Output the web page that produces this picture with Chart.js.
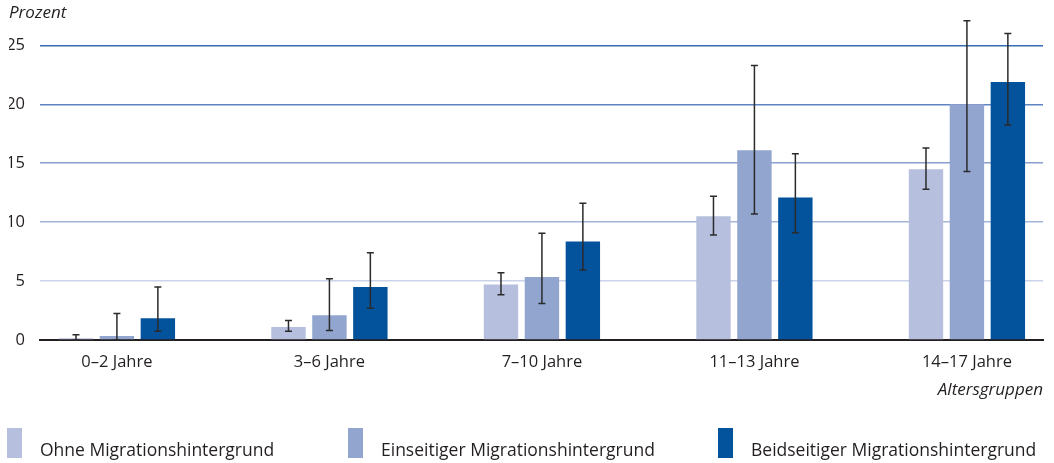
<!DOCTYPE html>
<html>
<head>
<meta charset="utf-8">
<script src="https://cdn.jsdelivr.net/npm/chart.js@4"></script>
<style>
body { margin: 0; background: #fff; }
#wrap { width: 1054px; height: 463px; }
</style>
</head>
<body>
<div id="wrap"><canvas id="myChart"></canvas></div>
<script>
const altersgruppen = ['0–2 Jahre', '3–6 Jahre', '7–10 Jahre', '11–13 Jahre', '14–17 Jahre'];
const serienNamen = ['Ohne Migrationshintergrund', 'Einseitiger Migrationshintergrund', 'Beidseitiger Migrationshintergrund'];
const serienFarben = ['#b6bfdd', '#91a5cf', '#03529c'];

const ohneWerte = [0.15, 1.1, 4.7, 10.5, 14.5];
const ohneUnten = [0, 0.75, 3.85, 8.9, 12.8];
const ohneOben = [0.45, 1.65, 5.7, 12.2, 16.3];

const einseitigWerte = [0.35, 2.1, 5.35, 16.1, 20.0];
const einseitigUnten = [0, 0.8, 3.1, 10.7, 14.3];
const einseitigOben = [2.25, 5.2, 9.05, 23.3, 27.1];

const beidseitigWerte = [1.85, 4.5, 8.35, 12.1, 21.9];
const beidseitigUnten = [0.75, 2.7, 5.95, 9.1, 18.25];
const beidseitigOben = [4.5, 7.4, 11.6, 15.8, 26.0];

const yTicks = [0, 5, 10, 15, 20, 25];
const gitterFarben = { 5: '#cbd3ea', 10: '#a3b4da', 15: '#8aa0d0', 20: '#5f84c3', 25: '#356db5' };

const schrift = "'Open Sans', 'Noto Sans', sans-serif";
const textFarbe = '#231f20';

const punkte = (werte) => werte.map((v, i) => ({ x: i, y: v }));

// Fehlerbalken ueber die y-Skala zeichnen
const fehlerbalken = {
	id: 'fehlerbalken',
	afterDatasetsDraw(chart) {
		const ctx = chart.ctx;
		const y = chart.scales.y;
		ctx.save();
		ctx.strokeStyle = '#2b2b2b';
		ctx.lineWidth = 1.5;
		chart.data.datasets.forEach((ds, d) => {
			chart.getDatasetMeta(d).data.forEach((bar, i) => {
				const lo = y.getPixelForValue(ds.unten[i]);
				const hi = y.getPixelForValue(ds.oben[i]);
				ctx.beginPath();
				ctx.moveTo(bar.x, lo);
				ctx.lineTo(bar.x, hi);
				ctx.moveTo(bar.x - 3.5, lo);
				ctx.lineTo(bar.x + 3.5, lo);
				ctx.moveTo(bar.x - 3.5, hi);
				ctx.lineTo(bar.x + 3.5, hi);
				ctx.stroke();
			});
		});
		ctx.restore();
	}
};

// Legende unten, in drei Spalten
const legendeUnten = {
	id: 'legendeUnten',
	afterDraw(chart) {
		const ctx = chart.ctx;
		const spalten = [7, 348, 718];
		const top = chart.height - 35;
		ctx.save();
		ctx.font = "17.5px " + schrift;
		ctx.textBaseline = 'alphabetic';
		chart.data.datasets.forEach((ds, d) => {
			ctx.fillStyle = ds.backgroundColor;
			ctx.fillRect(spalten[d], top, 15, 30);
			ctx.fillStyle = textFarbe;
			ctx.fillText(ds.label, spalten[d] + 33, top + 28);
		});
		ctx.restore();
	}
};

const ctx = document.getElementById('myChart');

let chart = new Chart(ctx, {
	type: 'bar',
	data: {
		datasets: [{
				label: serienNamen[0],
				data: punkte(ohneWerte),
				unten: ohneUnten,
				oben: ohneOben,
				backgroundColor: serienFarben[0],
			},
			{
				label: serienNamen[1],
				data: punkte(einseitigWerte),
				unten: einseitigUnten,
				oben: einseitigOben,
				backgroundColor: serienFarben[1],
			},
			{
				label: serienNamen[2],
				data: punkte(beidseitigWerte),
				unten: beidseitigUnten,
				oben: beidseitigOben,
				backgroundColor: serienFarben[2],
			}
		],
	},
	plugins: [fehlerbalken, legendeUnten],
	options: {
		responsive: true,
		maintainAspectRatio: false,
		animation: false,
		categoryPercentage: 0.578,
		barPercentage: 0.84,
		layout: {
			padding: { left: 9, right: 11, top: 0, bottom: 63 }
		},
		plugins: {
			legend: { display: false },
			tooltip: { enabled: false },
			title: {
				display: true,
				text: 'Prozent',
				align: 'start',
				color: textFarbe,
				font: { family: schrift, size: 17, style: 'italic', weight: 'normal' },
				padding: { top: 3, bottom: 22 }
			}
		},
		scales: {
			x: {
				type: 'linear',
				offset: false,
				min: -0.362,
				max: 4.358,
				afterBuildTicks: (scale) => {
					scale.ticks = altersgruppen.map((l, i) => ({ value: i }));
				},
				afterFit: (scale) => { scale.height = 60; },
				ticks: {
					color: textFarbe,
					font: { family: schrift, size: 16.5 },
					padding: 12,
					maxRotation: 0,
					autoSkip: false,
					callback: (v) => altersgruppen[v]
				},
				grid: { display: false, drawTicks: false },
				border: { display: true, color: textFarbe, width: 2 },
				title: {
					display: true,
					text: 'Altersgruppen',
					align: 'end',
					color: textFarbe,
					font: { family: schrift, size: 17, style: 'italic' },
					padding: 0
				}
			},
			y: {
				min: 0,
				max: 25,
				afterBuildTicks: (scale) => {
					scale.ticks = yTicks.map((v) => ({ value: v }));
				},
				afterFit: (scale) => { scale.width = 31; },
				ticks: {
					color: textFarbe,
					font: { family: schrift, size: 16.5 },
					padding: 15
				},
				grid: {
					drawTicks: false,
					lineWidth: 1.5,
					color: (c) => gitterFarben[c.tick.value] || 'rgba(0,0,0,0)'
				},
				border: { display: false }
			}
		}
	}
});
</script>
</body>
</html>
